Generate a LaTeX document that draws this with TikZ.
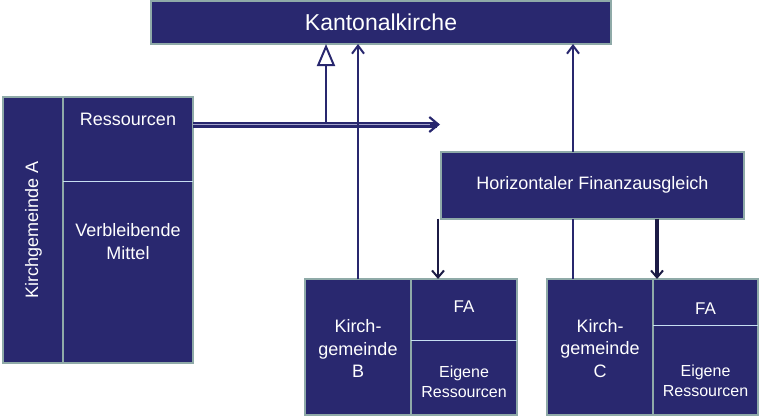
\documentclass[tikz,border=0pt]{standalone}
\usepackage{fontspec}
\setmainfont{Liberation Sans}
\usetikzlibrary{arrows.meta}
\definecolor{boxfill}{HTML}{29286F}
\definecolor{boxrim}{HTML}{8FAAA8}
\definecolor{divline}{HTML}{C6DEF2}
\definecolor{flow}{HTML}{28276E}
\definecolor{flowdark}{HTML}{1C1B45}
\definecolor{band}{HTML}{A4A4CC}
\begin{document}
\begin{tikzpicture}[x=1pt,y=-1pt,
  panel/.style={rectangle, draw=boxrim, fill=boxfill, line width=2pt, inner sep=0pt, outer sep=0pt},
  lbl/.style={text=white, align=center, inner sep=0pt, font=\fontsize{18}{22.5}\selectfont},
  small/.style={lbl, font=\fontsize{16}{20}\selectfont},
  divider/.style={draw=divline, line width=1pt},
  upflow/.style={draw=flow, line width=2pt, -{Straight Barb[length=8pt,width=12pt,line width=2pt]}},
  downflow/.style={draw=flowdark, line width=2.5pt, -{Straight Barb[length=7pt,width=12pt,line width=2pt]}}
]
\useasboundingbox (0,0) rectangle (759,416);

% Kantonalkirche
\node[panel, minimum width=460pt, minimum height=43pt] (kant) at (381,22.5) {};
\node[lbl, font=\fontsize{23}{26}\selectfont] (kanttxt) at (381,22.5) {Kantonalkirche};

% Kirchgemeinde A
\node[panel, minimum width=60pt, minimum height=266pt] (aL) at (33,230) {};
\node[panel, minimum width=130pt, minimum height=266pt] (aR) at (128,230) {};
\draw[divider] (aR.west |- 0,181) -- (aR.east |- 0,181);
\node[lbl, rotate=90] (aname) at (33.5,229.5) {Kirchgemeinde A};
\node[lbl] (ares) at (128,119) {Ressourcen};
\node[lbl] (arest) at (128,241.5) {Verbleibende\\Mittel};

% Horizontaler Finanzausgleich
\node[panel, minimum width=303pt, minimum height=67pt] (hfa) at (592.5,185) {};
\node[lbl] (hfatxt) at (592.5,185) {Horizontaler Finanzausgleich};

% Kirchgemeinde B
\node[panel, minimum width=106pt, minimum height=136pt] (bL) at (358,347) {};
\node[panel, minimum width=106pt, minimum height=136pt] (bR) at (464,347) {};
\draw[divider] (bR.west |- 0,340) -- (bR.east |- 0,340);
\node[lbl] (bname) at (358,348.5) {Kirch-\\gemeinde\\B};
\node[lbl, font=\fontsize{17}{20}\selectfont] (bfa) at (464,307) {FA};
\node[small] (bown) at (464,382) {Eigene\\Ressourcen};

% Kirchgemeinde C
\node[panel, minimum width=106pt, minimum height=136pt] (cL) at (600,347) {};
\node[panel, minimum width=105pt, minimum height=136pt] (cR) at (705.5,347) {};
\draw[divider] (cR.west |- 0,325) -- (cR.east |- 0,325);
\node[lbl] (cname) at (600,348.5) {Kirch-\\gemeinde\\C};
\node[lbl, font=\fontsize{17}{20}\selectfont] (cfa) at (705.5,309) {FA};
\node[small] (cown) at (705.5,381) {Eigene\\Ressourcen};

% Ressourcen of A: share to the Kantonalkirche and onward flow
\coordinate (resTip) at (440,124.5);
\coordinate (knee) at (326,127);
\draw[flow, line width=2.5pt, -{Triangle[open, length=22pt, width=18pt, line width=2pt]}]
  (aR.east |- knee) -- (knee) -- (knee |- kant.south);
\draw[flow, line width=6pt, -{Straight Barb[length=9pt,width=15pt,line width=2.2pt]}]
  (aR.east |- resTip) -- (resTip);
\draw[band, line width=1.5pt] (aR.east |- resTip) -- ([xshift=-10pt]resTip);

% B and HFA contribute to the Kantonalkirche
\draw[upflow] (bL.north -| 358,0) -- (kant.south -| 358,0);
\draw[upflow] (hfa.north -| 573,0) -- (kant.south -| 573,0);
\draw[flow, line width=2pt] (cL.north -| 573,0) -- (hfa.south -| 573,0);

% HFA payments to B and C
\draw[downflow] (hfa.south -| 438,0) -- (bR.north -| 438,0);
\draw[downflow, line width=3.5pt] (hfa.south -| 657,0) -- (cR.north -| 657,0);
\end{tikzpicture}
\end{document}
